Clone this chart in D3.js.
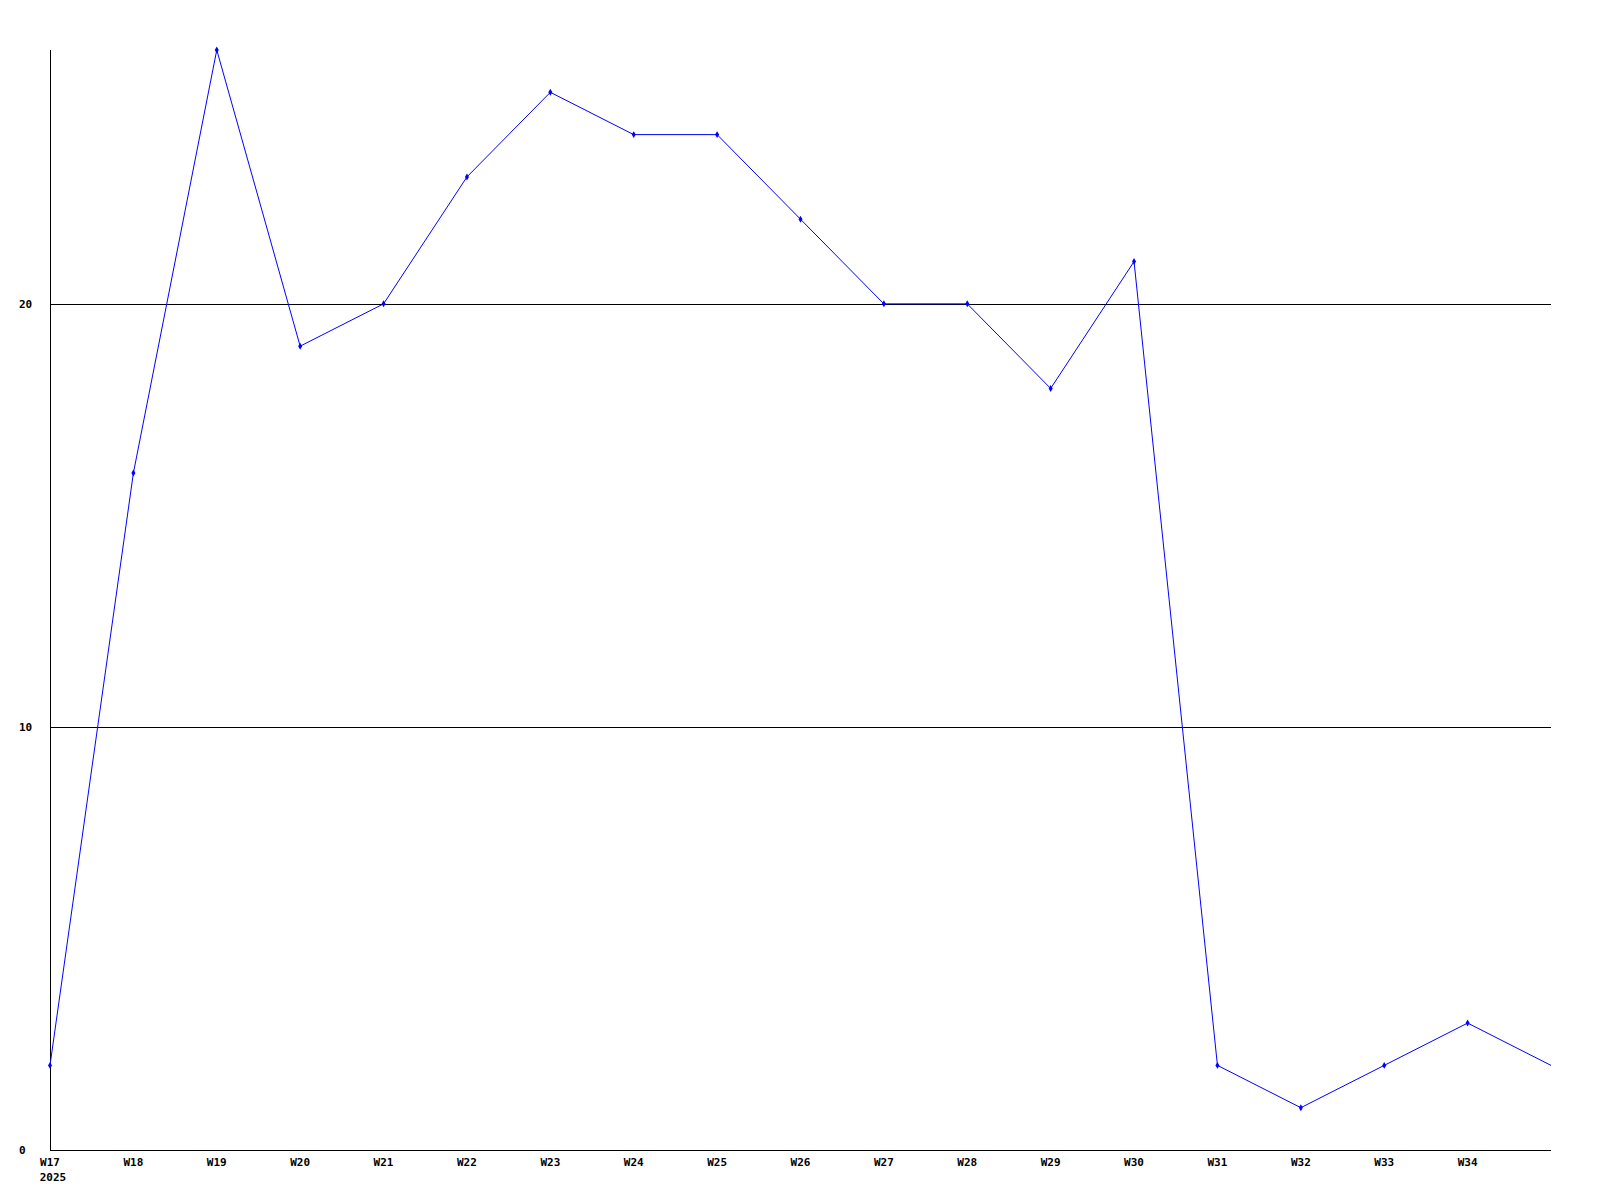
<!DOCTYPE html>
<html><head><meta charset="utf-8">
<script src="https://cdn.jsdelivr.net/npm/d3@7"></script>
<style>body{margin:0;background:#fff}text{font-family:"DejaVu Sans Mono",monospace;font-weight:bold;font-size:11px}</style>
</head><body>
<svg id="c" width="1600" height="1200"></svg>
<script>
const weeks = ["W17","W18","W19","W20","W21","W22","W23","W24","W25","W26","W27","W28","W29","W30","W31","W32","W33","W34","W35"];
const values = [2,16,26,19,20,23,25,24,24,22,20,20,18,21,2,1,2,3,2];
const tickLabels = ["W17","W18","W19","W20","W21","W22","W23","W24","W25","W26","W27","W28","W29","W30","W31","W32","W33","W34"];
const yTicks = [0,10,20];

const svg = d3.select("#c");
const L = 50, R = 1551, T = 50, B = 1150;
const x = d3.scalePoint().domain(weeks).range([L, R]);
const y = d3.scaleLinear().domain([0, 26]).range([B, T]);

// gridlines
svg.append("g").selectAll("line").data(yTicks.filter(d=>d>0)).join("line")
  .attr("x1", L).attr("x2", R).attr("y1", d=>Math.round(y(d))+0.5).attr("y2", d=>Math.round(y(d))+0.5)
  .attr("stroke", "#000").attr("stroke-width", 1);
// axes
svg.append("line").attr("x1", L+0.5).attr("x2", L+0.5).attr("y1", T).attr("y2", B).attr("stroke","#000");
svg.append("line").attr("x1", L).attr("x2", R).attr("y1", B+0.5).attr("y2", B+0.5).attr("stroke","#000");

// y labels
svg.append("g").selectAll("text").data(yTicks).join("text")
  .attr("x", 19).attr("y", d=>y(d)).attr("dy","0.35em").attr("text-anchor","start").text(d=>d);
// x labels
svg.append("g").selectAll("text").data(tickLabels).join("text")
  .attr("x", d=>x(d)).attr("y", B+12).attr("dy","0.35em").attr("text-anchor","middle").text(d=>d);
svg.append("text").attr("x", x("W17")+3).attr("y", B+27).attr("dy","0.35em").attr("text-anchor","middle").text("2025");

// line
const line = d3.line().x((d,i)=>x(weeks[i])).y(d=>y(d));
svg.append("path").datum(values).attr("d", line).attr("fill","none").attr("stroke","#0000ff").attr("stroke-width",1);
// markers
svg.append("g").selectAll("path").data(values.slice(0, tickLabels.length)).join("path")
  .attr("transform",(d,i)=>`translate(${x(weeks[i])},${y(d)})`)
  .attr("d", d3.symbol().type(d3.symbolDiamond).size(14)).attr("fill","#0000ff");
</script>
</body></html>
